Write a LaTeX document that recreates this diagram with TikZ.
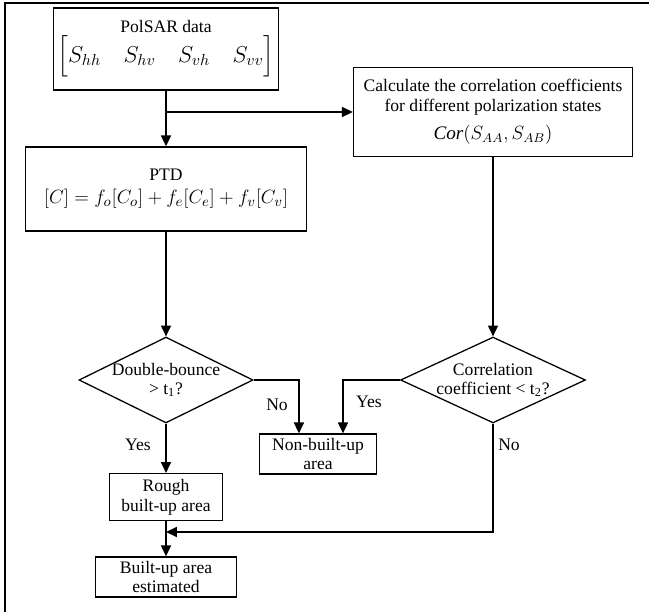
\documentclass[tikz,border=0pt]{standalone}
\usepackage{amsmath}
\usepackage{fontspec}
\setmainfont{Liberation Serif}
\usetikzlibrary{arrows.meta,shapes.geometric}

\begin{document}
\begin{tikzpicture}[x=0.022cm,y=-0.022cm,
 >={Triangle[length=2.4mm,width=2.2mm]},
 font=\fontsize{11}{12.5}\selectfont,
 box/.style={draw,thick,align=center,inner sep=2pt},
 test/.style={diamond,draw,thick,align=center,shape aspect=2,inner sep=-2pt,
  font=\fontsize{11}{12}\selectfont},
 flow/.style={->,line width=1pt},
 tag/.style={inner sep=1pt}]
\useasboundingbox (0,0) rectangle (649,612);
\draw[line width=1.6pt] (649,3) -- (5,3) -- (5,612);
% input and the two processing steps
\node[box,minimum width=4.95cm,minimum height=1.8cm] (polsar) at (166,49)
 {PolSAR data\\[1pt]
 {\fontsize{14}{16}\selectfont$\Bigl[S_{hh}\quad S_{hv}\quad S_{vh}\quad S_{vv}\Bigr]$}};
\node[box,minimum width=6.18cm,minimum height=1.85cm] (ptd) at (166,189)
 {PTD\\[2pt]
 {\fontsize{12.5}{14}\selectfont$[C]=f_o[C_o]+f_e[C_e]+f_v[C_v]$}};
\node[box,minimum width=6.14cm,minimum height=1.96cm] (corr) at (493,112)
 {Calculate the correlation coefficients\\for different polarization states\\[5pt]
 {\fontsize{12}{13}\selectfont$\mathit{Cor}(S_{AA},S_{AB})$}};
% decisions
\node[test,minimum width=3.83cm,minimum height=1.89cm] (dbl) at (166,380)
 {Double-bounce\\> t\textsubscript{1}?};
\node[test,minimum width=4.07cm,minimum height=1.89cm] (cc) at (493,380)
 {Correlation\\coefficient < t\textsubscript{2}?};
% results
\node[box,minimum width=2.57cm,minimum height=0.88cm] (nonbuilt) at (318,454)
 {Non-built-up\\area};
\node[box,minimum width=2.49cm,minimum height=1.03cm] (rough) at (166,497)
 {Rough\\built-up area};
\node[box,minimum width=3.1cm,minimum height=0.88cm] (builtup) at (166,577)
 {Built-up area\\estimated};
\coordinate (split) at (166,112);
\coordinate (merge) at (166,532);
\draw[flow] (polsar.south) -- (ptd.north);
\draw[flow] (split) -- (corr.west);
\draw[flow] (ptd.south) -- (dbl.north);
\draw[flow] (corr.south) -- (cc.north);
\draw[flow] (dbl.east) -| ([xshift=-0.42cm]nonbuilt.north);
\draw[flow] (cc.west) -| ([xshift=0.55cm]nonbuilt.north);
\draw[flow] (dbl.south) -- (rough.north);
\draw[flow] (rough.south) -- (builtup.north);
\draw[flow] (cc.south) |- (merge);
\node[tag] (no1) at (277,405) {No};
\node[tag] (yes2) at (369,402) {Yes};
\node[tag] (yes1) at (138,445) {Yes};
\node[tag] (no2) at (509,445) {No};
\end{tikzpicture}
\end{document}
